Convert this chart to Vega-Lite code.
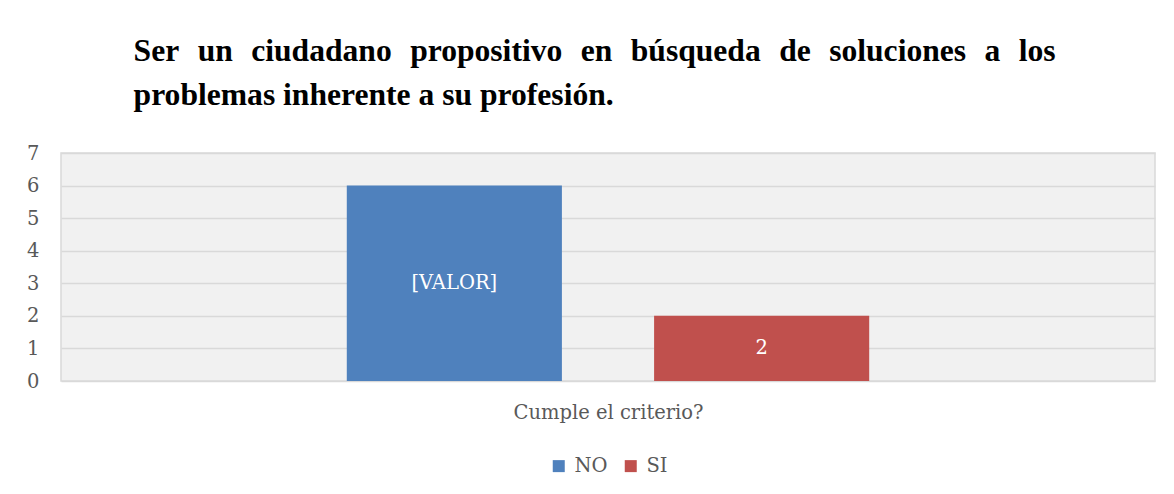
{
  "$schema": "https://vega.github.io/schema/vega-lite/v6.json",
  "autosize": {"type": "none"},
  "width": 1094,
  "height": 228,
  "padding": {"left": 61, "top": 153, "right": 19, "bottom": 113},
  "background": "white",
  "title": {
    "text": ["Ser\u00a0\u00a0\u200aun\u00a0\u00a0\u200aciudadano\u00a0\u00a0\u200apropositivo\u00a0\u00a0\u200aen\u00a0\u00a0\u200abúsqueda\u00a0\u00a0\u200ade\u00a0\u00a0\u200asoluciones\u00a0\u00a0\u200aa\u00a0\u00a0\u200alos", "problemas inherente a su profesión."],
    "anchor": "start",
    "dx": 107,
    "font": "Liberation Serif",
    "fontSize": 31.6,
    "fontWeight": "bold",
    "color": "black",
    "lineHeight": 44,
    "offset": 31
  },
  "data": {
    "values": [
      {"serie": "NO", "valor": 6, "etiqueta": "[VALOR]"},
      {"serie": "SI", "valor": 2, "etiqueta": "2"}
    ]
  },
  "encoding": {
    "x": {
      "field": "serie",
      "type": "nominal",
      "scale": {"paddingInner": 0.3, "paddingOuter": 0.93},
      "axis": {
        "title": "Cumple el criterio?",
        "labels": false,
        "ticks": false,
        "domain": false,
        "titleFont": "DejaVu Serif",
        "titleFontSize": 19.5,
        "titleFontWeight": "normal",
        "titleColor": "#595959",
        "titlePadding": 22
      }
    }
  },
  "layer": [
    {
      "mark": {"type": "bar"},
      "encoding": {
        "y": {
          "field": "valor",
          "type": "quantitative",
          "scale": {"domain": [0, 7], "nice": false},
          "axis": {
            "title": null,
            "values": [0, 1, 2, 3, 4, 5, 6, 7],
            "domain": false,
            "ticks": false,
            "labelPadding": 22,
            "labelFont": "DejaVu Serif",
            "labelFontSize": 19.5,
            "labelColor": "#595959",
            "gridColor": "#d9d9d9",
            "gridWidth": 1.5
          }
        },
        "color": {
          "field": "serie",
          "type": "nominal",
          "scale": {"domain": ["NO", "SI"], "range": ["#4f81bd", "#c0504d"]},
          "legend": {
            "title": null,
            "orient": "bottom",
            "direction": "horizontal",
            "symbolType": "square",
            "symbolSize": 144,
            "symbolStrokeWidth": 0,
            "labelFont": "DejaVu Serif",
            "labelFontSize": 19.5,
            "labelColor": "#595959",
            "labelOffset": 6,
            "columnPadding": 13,
            "offset": 34
          }
        }
      }
    },
    {
      "mark": {"type": "text", "color": "white", "font": "DejaVu Serif", "fontSize": 19.5, "baseline": "middle"},
      "encoding": {
        "y": {
          "field": "valor",
          "type": "quantitative",
          "scale": {"domain": [0, 14], "nice": false},
          "axis": null
        },
        "text": {"field": "etiqueta"}
      }
    }
  ],
  "resolve": {"scale": {"y": "independent"}, "axis": {"y": "independent"}},
  "config": {
    "view": {"fill": "#f1f1f1", "stroke": "#d9d9d9", "strokeWidth": 1.5},
    "legend": {"layout": {"bottom": {"anchor": "middle"}}}
  }
}
